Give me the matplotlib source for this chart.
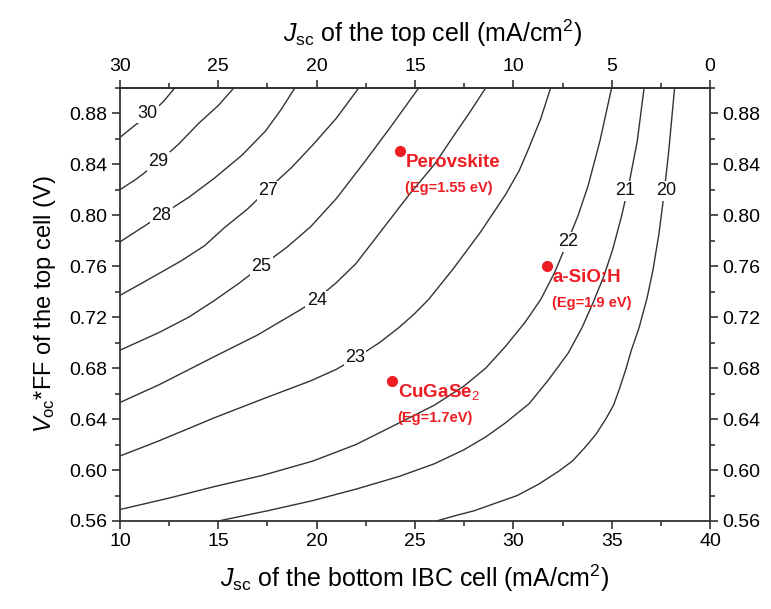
import matplotlib
matplotlib.use("Agg")
import matplotlib.pyplot as plt
from matplotlib.ticker import MultipleLocator, FormatStrFormatter

plt.rcParams['font.family'] = ['Liberation Sans', 'DejaVu Sans']
plt.rcParams['mathtext.fontset'] = 'custom'
plt.rcParams['mathtext.rm'] = 'Liberation Sans'
plt.rcParams['mathtext.it'] = 'Liberation Sans:italic'

# efficiency iso-lines: Jsc bottom cell (x), Voc*FF top cell (y)
jsc_30 = [10.0, 10.8, 11.6, 12.2, 12.8]
vff_30 = [0.861, 0.871, 0.880, 0.889, 0.900]
jsc_29 = [10.0, 10.8, 12.0, 13.0, 14.0, 15.0, 15.8]
vff_29 = [0.820, 0.828, 0.842, 0.856, 0.872, 0.886, 0.900]
jsc_28 = [10.0, 11.0, 12.1, 13.5, 14.8, 16.2, 17.4, 18.2, 18.9]
vff_28 = [0.779, 0.789, 0.800, 0.814, 0.829, 0.847, 0.866, 0.883, 0.900]
jsc_27 = [10.0, 11.5, 13.1, 14.3, 15.3, 16.5, 17.5, 18.7, 19.8, 21.0, 22.15]
vff_27 = [0.737, 0.750, 0.764, 0.776, 0.790, 0.805, 0.820, 0.837, 0.855, 0.876, 0.900]
jsc_25 = [10.0, 12.0, 13.5, 14.8, 16.0, 17.2, 18.5, 19.7, 21.0, 22.4, 23.8, 25.2]
vff_25 = [0.694, 0.708, 0.720, 0.733, 0.746, 0.760, 0.775, 0.791, 0.813, 0.841, 0.870, 0.900]
jsc_24 = [10.0, 12.0, 14.8, 17.0, 19.2, 20.0, 21.0, 22.0, 22.7, 23.7, 24.7, 26.0, 27.0, 27.8, 28.6]
vff_24 = [0.653, 0.667, 0.689, 0.706, 0.726, 0.734, 0.747, 0.762, 0.776, 0.796, 0.816, 0.840, 0.863, 0.881, 0.900]
jsc_23 = [10.0, 12.0, 14.8, 17.3, 19.7, 21.0, 22.0, 23.2, 24.2, 25.0, 25.7, 26.9, 28.3, 29.6, 30.3, 30.8, 31.4, 31.9]
vff_23 = [0.611, 0.623, 0.641, 0.656, 0.670, 0.679, 0.688, 0.700, 0.712, 0.723, 0.734, 0.757, 0.786, 0.816, 0.835, 0.853, 0.876, 0.900]
jsc_22 = [10.0, 12.5, 14.8, 17.3, 19.8, 22.0, 24.2, 26.0, 27.5, 28.6, 29.6, 30.6, 31.4, 32.1, 32.75, 33.3, 33.8, 34.4, 35.0]
vff_22 = [0.569, 0.578, 0.587, 0.596, 0.607, 0.620, 0.637, 0.651, 0.666, 0.680, 0.697, 0.716, 0.734, 0.755, 0.779, 0.800, 0.823, 0.858, 0.900]
jsc_21 = [15.0, 17.5, 19.8, 22.0, 24.2, 26.0, 27.5, 28.6, 29.6, 30.8, 31.8, 32.8, 33.5, 34.1, 34.6, 35.05, 35.5, 35.9, 36.3, 36.65]
vff_21 = [0.560, 0.568, 0.576, 0.585, 0.595, 0.605, 0.616, 0.626, 0.637, 0.652, 0.671, 0.692, 0.712, 0.733, 0.752, 0.773, 0.799, 0.826, 0.858, 0.900]
jsc_20 = [26.1, 27.0, 28.0, 29.1, 30.2, 31.3, 32.3, 33.0, 33.6, 34.2, 34.7, 35.1, 35.4, 35.7, 36.0, 36.4, 36.8, 37.1, 37.4, 37.65, 37.9, 38.2]
vff_20 = [0.560, 0.564, 0.568, 0.574, 0.580, 0.589, 0.599, 0.607, 0.617, 0.628, 0.640, 0.651, 0.664, 0.678, 0.694, 0.712, 0.735, 0.757, 0.785, 0.815, 0.850, 0.900]

lines_x = [jsc_30, jsc_29, jsc_28, jsc_27, jsc_25, jsc_24, jsc_23, jsc_22, jsc_21, jsc_20]
lines_y = [vff_30, vff_29, vff_28, vff_27, vff_25, vff_24, vff_23, vff_22, vff_21, vff_20]

# contour labels as printed on the figure
label_text = ['30', '29', '28', '27', '25', '24', '23', '22', '21', '20']
label_x = [11.4, 11.95, 12.1, 17.55, 17.2, 20.0, 21.95, 32.8, 35.7, 37.75]
label_y = [0.880, 0.842, 0.800, 0.819, 0.760, 0.733, 0.688, 0.779, 0.819, 0.819]

# top-cell materials
mat_names = ['Perovskite', 'a-SiO:H', 'CuGaSe$_2$']
mat_gaps = ['(Eg=1.55 eV)', '(Eg=1.9 eV)', '(Eg=1.7eV)']
mat_jsc = [24.25, 31.7, 23.85]
mat_vff = [0.850, 0.760, 0.670]

red = '#ee1d23'
ink = '#333333'

fig = plt.figure(figsize=(7.71, 6.09), dpi=100)
ax = fig.add_axes([0.1556, 0.1445, 0.7653, 0.7115])

for xs, ys in zip(lines_x, lines_y):
    ax.plot(xs, ys, color=ink, lw=1.0, solid_joinstyle='round')

for t, x, y in zip(label_text, label_x, label_y):
    ax.text(x, y, t, ha='center', va='center', fontsize=13, color='#111111',
            bbox=dict(fc='white', ec='none', pad=1.0))

ax.plot(mat_jsc, mat_vff, 'o', color=red, ms=7, zorder=5)
for name, gap, x, y in zip(mat_names, mat_gaps, mat_jsc, mat_vff):
    ax.text(x + 0.3, y - 0.009, name, color=red, fontsize=13.5, fontweight='bold',
            ha='left', va='center')
    ax.text(x + 0.25, y - 0.029, gap, color=red, fontsize=10.5, fontweight='bold',
            ha='left', va='center')

ax.set_xlim(10, 40)
ax.set_ylim(0.56, 0.90)
ax.xaxis.set_major_locator(MultipleLocator(5))
ax.xaxis.set_minor_locator(MultipleLocator(2.5))
ax.yaxis.set_minor_locator(MultipleLocator(0.02))
ax.yaxis.set_major_formatter(FormatStrFormatter('%.2f'))
ax.set_yticks([0.56, 0.60, 0.64, 0.68, 0.72, 0.76, 0.80, 0.84, 0.88])

ax.tick_params(which='both', direction='out', top=False, right=True,
               labelright=True, color=ink, width=1.2, labelsize=14, pad=3)
ax.tick_params(which='major', length=6)
ax.tick_params(which='minor', length=3.5)

top = ax.secondary_xaxis('top', functions=(lambda x: 40 - x, lambda x: 40 - x))
top.set_xticks([30, 25, 20, 15, 10, 5, 0])
top.xaxis.set_minor_locator(MultipleLocator(2.5))
top.tick_params(which='both', direction='out', color=ink, width=1.2, labelsize=14, pad=3)
top.tick_params(which='major', length=6)
top.tick_params(which='minor', length=3.5)
top.set_xlabel(r'$J_{\rm sc}$ of the top cell (mA/cm$^2$)', fontsize=18, labelpad=12)
top.xaxis.label.set_x(0.53)
top.spines['top'].set_linewidth(1.3)
top.spines['top'].set_color(ink)

for s in ax.spines.values():
    s.set_linewidth(1.3)
    s.set_color(ink)

ax.set_xlabel(r'$J_{\rm sc}$ of the bottom IBC cell (mA/cm$^2$)', fontsize=18, labelpad=9)
ax.set_ylabel(r'$V_{\rm oc}$*FF of the top cell (V)', fontsize=17, labelpad=8)

fig.savefig('out.png', dpi=100)
